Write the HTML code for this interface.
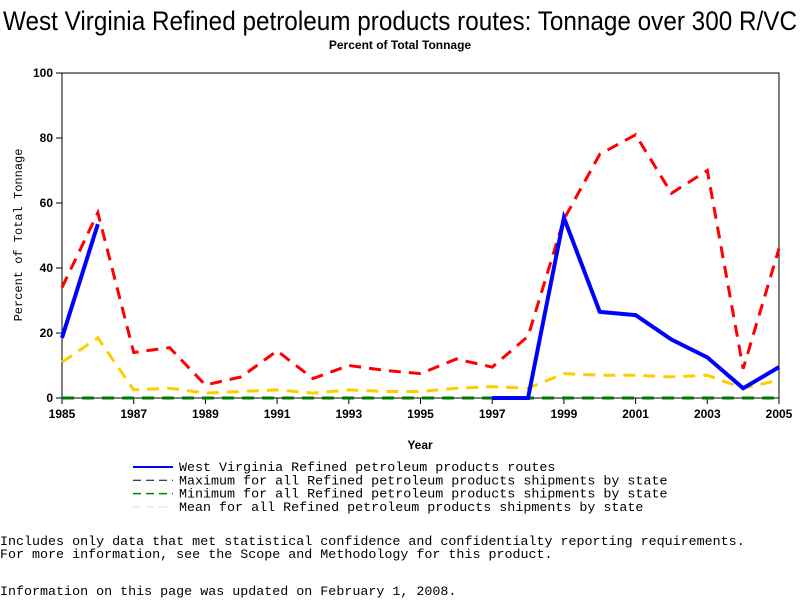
<!DOCTYPE html>
<html><head><meta charset="utf-8"><style>
body{margin:0;background:#fff;width:800px;height:600px;overflow:hidden;position:relative;font-family:"Liberation Sans",sans-serif}
.t{position:absolute;white-space:pre}
.mono{font-family:"Liberation Mono",monospace;font-size:13.35px}
</style></head><body>
<div class="t" style="left:0;top:38px;width:800px;text-align:center;font-size:12px;font-weight:bold">Percent of Total Tonnage</div>
<svg id="c" width="800" height="600" style="position:absolute;left:0;top:0">
<text x="3" y="30" font-size="27" font-family="Liberation Sans,sans-serif" textLength="794" lengthAdjust="spacingAndGlyphs">West Virginia Refined petroleum products routes: Tonnage over 300 R/VC</text>
</svg>
<div class="t mono" style="left:0;top:535px">Includes only data that met statistical confidence and confidentialty reporting requirements.</div>
<div class="t mono" style="left:0;top:548px">For more information, see the Scope and Methodology for this product.</div>
<div class="t mono" style="left:0;top:585px">Information on this page was updated on February 1, 2008.</div>
<script>
const years=[1985,1986,1987,1988,1989,1990,1991,1992,1993,1994,1995,1996,1997,1998,1999,2000,2001,2002,2003,2004,2005];
const wv=[18.5,53.5,null,null,null,null,null,null,null,null,null,null,0,0,55.5,26.5,25.5,18,12.5,3,9.5];
const maxV=[34,57,14,15.5,4,6.5,14.5,6,10,8.5,7.5,12,9.5,19,55,75,81,63,70,9,46];
const minV=[0,0,0,0,0,0,0,0,0,0,0,0,0,0,0,0,0,0,0,0,0];
const meanV=[11,18.5,2.5,3,1.5,2,2.5,1.5,2.5,2,2,3,3.5,3,7.5,7,7,6.5,7,3,5.5];
const yTicks=[0,20,40,60,80,100];
const xTicks=[1985,1987,1989,1991,1993,1995,1997,1999,2001,2003,2005];
const X0=62,X1=779,Y0=398,Y1=73;
const xs=v=>X0+(v-1985)/20*(X1-X0);
const ys=v=>Y0-v/100*(Y0-Y1);
const svg=document.getElementById('c');const NS='http://www.w3.org/2000/svg';
function mk(t,a){const e=document.createElementNS(NS,t);for(const k in a)e.setAttribute(k,a[k]);svg.appendChild(e);return e;}
let e=mk('rect',{x:X0,y:Y1,width:X1-X0,height:Y0-Y1,fill:'none',stroke:'#000','stroke-width':1});


yTicks.forEach(v=>{const y=ys(v);
 let l=mk('line',{x1:X0-6,x2:X0,y1:y,y2:y,stroke:'#000'});
 
 
 let t=mk('text',{x:X0-9,y:y+4,'text-anchor':'end','font-size':12,'font-weight':'bold','font-family':'Liberation Sans,sans-serif'});t.textContent=v;
 
 });
xTicks.forEach(v=>{const x=xs(v);
 let l=mk('line',{x1:x,x2:x,y1:Y0,y2:Y0+6,stroke:'#000'});
 
 
 let t=mk('text',{x:x,y:Y0+20,'text-anchor':'middle','font-size':12,'font-weight':'bold','font-family':'Liberation Sans,sans-serif'});t.textContent=v;
 
 });
let xt=mk('text',{x:420,y:449,'text-anchor':'middle','font-size':12,'font-weight':'bold','font-family':'Liberation Sans,sans-serif'});xt.textContent='Year';


let yt=mk('text',{x:22,y:235,'text-anchor':'middle','font-size':12,'font-family':'Liberation Mono,monospace',transform:'rotate(-90 22 235)'});yt.textContent='Percent of Total Tonnage';


function series(vals,color,w,dash,name){let segs=[],cur=[];vals.forEach((v,i)=>{if(v==null){if(cur.length)segs.push(cur);cur=[];}else cur.push(xs(years[i])+','+ys(v));});if(cur.length)segs.push(cur);
 segs.forEach(s=>{let p=mk('polyline',{points:s.join(' '),fill:'none',stroke:color,'stroke-width':w,'stroke-dasharray':dash});
 
 });}
series(minV,'#007700',3,'12 8','min-line');
series(meanV,'#ffcc00',3,'12 8','mean-line');
series(maxV,'#ff0000',3,'12 8','max-line');
series(wv,'#0000ff',4,'none','wv-line');
const leg=[['West Virginia Refined petroleum products routes','#0000ff','none',2],['Maximum for all Refined petroleum products shipments by state','#000','8 5',1],['Minimum for all Refined petroleum products shipments by state','#008800','8 5',1.5],['Mean for all Refined petroleum products shipments by state','#e8e0c0','8 5',1]];
leg.forEach((d,i)=>{const y=467+i*13.3;
 let l=mk('line',{x1:133,x2:173,y1:y,y2:y,stroke:d[1],'stroke-dasharray':d[2],'stroke-width':d[3]});
 
 
 let t=mk('text',{x:179,y:y+4,'font-size':13.35,'font-family':'Liberation Mono,monospace'});t.textContent=d[0];
 
 });
</script>
</body></html>
